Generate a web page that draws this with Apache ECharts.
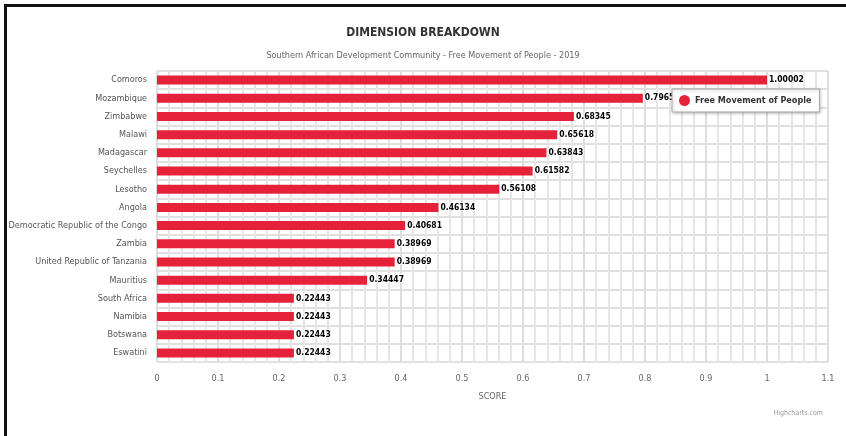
<!DOCTYPE html>
<html>
<head>
<meta charset="utf-8">
<script src="https://cdn.jsdelivr.net/npm/echarts@6/dist/echarts.min.js"></script>
<style>html,body{margin:0;padding:0;background:#fff;}#c{width:846px;height:436px;}</style>
</head>
<body>
<div id="c"></div>
<script>
const categories = ["Comoros","Mozambique","Zimbabwe","Malawi","Madagascar","Seychelles","Lesotho","Angola","Democratic Republic of the Congo","Zambia","United Republic of Tanzania","Mauritius","South Africa","Namibia","Botswana","Eswatini"];
const values = [1.00002,0.7965,0.68345,0.65618,0.63843,0.61582,0.56108,0.46134,0.40681,0.38969,0.38969,0.34447,0.22443,0.22443,0.22443,0.22443];
const seriesName = "Free Movement of People";
const titleText = "DIMENSION BREAKDOWN";
const subtitleText = "Southern African Development Community - Free Movement of People - 2019";
const xAxisName = "SCORE";
const credit = "Highcharts.com";

const F = "'DejaVu Sans Condensed','Liberation Sans Narrow',Roboto,sans-serif";
const chart = echarts.init(document.getElementById('c'));
chart.setOption({
  animation: false,
  textStyle: {fontFamily: F},
  title: [
    {text: titleText, left: 'center', top: 22, textStyle: {fontFamily: F, fontSize: 12, fontWeight: 'bold', color: '#333'}},
    {text: subtitleText, left: 'center', top: 46, textStyle: {fontFamily: F, fontSize: 9, fontWeight: 'normal', color: '#666'}},
    {text: credit, right: 18, top: 405, textStyle: {fontFamily: F, fontSize: 7, fontWeight: 'normal', color: '#999'}}
  ],
  legend: {
    left: 672, top: 89, orient: 'horizontal',
    padding: [6, 8, 6, 7],
    backgroundColor: '#fff', borderColor: '#aaa', borderWidth: 1,
    shadowColor: 'rgba(0,0,0,0.25)', shadowBlur: 3, shadowOffsetX: 1, shadowOffsetY: 1,
    icon: 'circle', itemWidth: 11, itemHeight: 11, itemGap: 4,
    textStyle: {fontFamily: F, fontSize: 9, fontWeight: 'bold', color: '#333'},
    data: [seriesName]
  },
  grid: {left: 157, right: 18, top: 71, bottom: 74, show: true, borderColor: '#ddd', borderWidth: 1, containLabel: false, outerBoundsMode: 'none'},
  xAxis: {
    type: 'value', min: 0, max: 1.1, interval: 0.1,
    name: xAxisName, nameLocation: 'middle', nameGap: 30,
    nameTextStyle: {fontFamily: F, fontSize: 9, color: '#666'},
    axisLine: {show: false}, axisTick: {show: false},
    axisLabel: {fontFamily: F, fontSize: 9, color: '#666', margin: 12},
    splitLine: {show: true, lineStyle: {color: '#ddd', width: 2}},
    minorTick: {show: false, splitNumber: 5},
    minorSplitLine: {show: true, lineStyle: {color: '#e6e6e6', width: 2}}
  },
  yAxis: {
    type: 'category', data: categories, inverse: true,
    axisLine: {show: false}, axisTick: {show: false},
    axisLabel: {fontFamily: F, fontSize: 9, color: '#555', margin: 10},
    splitLine: {show: true, lineStyle: {color: '#e0e0e0', width: 2}}
  },
  series: [{
    name: seriesName, type: 'bar', data: values, barWidth: 9,
    itemStyle: {color: '#e6223a'},
    label: {show: true, position: 'right', distance: 2, fontFamily: F, fontSize: 8.5, fontWeight: 'bold', color: '#000',
      textBorderColor: '#fff', textBorderWidth: 2,
      formatter: p => String(p.value)}
  }],
  graphic: [
    {type: 'rect', shape: {x: 4, y: 4, width: 842, height: 3}, style: {fill: '#111'}},
    {type: 'rect', shape: {x: 4, y: 4, width: 3, height: 432}, style: {fill: '#111'}}
  ]
});
</script>
</body>
</html>
